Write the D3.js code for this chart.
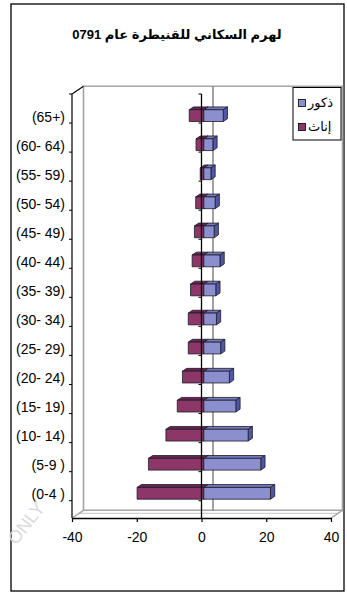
<!DOCTYPE html>
<html>
<head>
<meta charset="utf-8">
<script src="https://cdn.jsdelivr.net/npm/d3@7/dist/d3.min.js"></script>
<style>
  html, body { margin: 0; padding: 0; background: #fff; }
  svg { display: block; font-family: "Liberation Sans", Arial, "DejaVu Sans", sans-serif; }
</style>
</head>
<body>
<svg id="chart" width="347" height="593"></svg>
<script>
// Age groups, top to bottom
const categories = ["(65+)", "(60- 64)", "(55- 59)", "(50- 54)", "(45- 49)", "(40- 44)", "(35- 39)",
                    "(30- 34)", "(25- 29)", "(20- 24)", "(15- 19)", "(10- 14)", "(5-9 )", "(0-4 )"];
// Percent of population by age group
const males   = [6.0, 2.8, 2.2, 3.5, 3.2, 5.0, 3.7, 3.9, 5.2, 7.9, 9.9, 13.7, 17.6, 20.6];
const females = [-4.5, -2.4, -1.1, -2.5, -2.9, -3.6, -4.1, -4.8, -4.8, -6.6, -8.2, -11.7, -17.1, -20.6];
const valueTicks = [-40, -20, 0, 20, 40];
const seriesNames = ["ذكور", "إناث"];
const titleText = "لهرم السكاني للقنيطرة عام 0791";

const svg = d3.select("#chart");

// Front plane scales
const x = d3.scaleLinear().domain([-40, 40]).range([72, 331]);
const y = d3.scaleBand().domain(categories).range([94, 518]).padding(0.595);
const step = y.step();

// Oblique depth: d = 0 front plane, d = 1 back wall
const DX = 11.5, DY = -7.7;
const proj = (px, py, d) => [px + DX * d, py + DY * d];
const pts = arr => arr.map(p => p.join(",")).join(" ");

// Outer frame
svg.append("rect").attr("x", 11).attr("y", 4).attr("width", 333).attr("height", 587)
  .attr("fill", "#fff").attr("stroke", "#000").attr("stroke-width", 1.3);

// Title
svg.append("text").attr("x", 177).attr("y", 39)
  .attr("text-anchor", "middle").style("direction", "rtl")
  .attr("font-size", 13).attr("font-weight", "bold").attr("fill", "#000")
  .text(titleText);

// Walls and floor
const wall = svg.append("g").attr("fill", "none").attr("stroke", "#a4a4a4");
const [x0, x1] = x.range();
const [yTop, yBot] = y.range();
const bl = proj(x0, yTop, 1), br = proj(x1, yTop, 1), fbl = proj(x0, yBot, 1), fbr = proj(x1, yBot, 1);
wall.append("polygon").attr("points", pts([bl, br, fbr, fbl])).attr("stroke-width", 1.6);
wall.append("line").attr("x1", fbl[0] - 5).attr("y1", fbl[1] + 3).attr("x2", fbr[0] - 5).attr("y2", fbr[1] + 3)
  .attr("stroke", "#c4c4c4").attr("stroke-width", 1);
wall.append("line").attr("x1", x0).attr("y1", yBot).attr("x2", fbl[0]).attr("y2", fbl[1]).attr("stroke-width", 1.4);
wall.append("line").attr("x1", x1).attr("y1", yBot).attr("x2", fbr[0]).attr("y2", fbr[1]).attr("stroke-width", 1.4);

// Zero gridline on the back wall
const z0 = proj(x(0), yTop, 1), z1 = proj(x(0), yBot, 1);
svg.append("line").attr("x1", z0[0]).attr("y1", z0[1]).attr("x2", z1[0]).attr("y2", z1[1])
  .attr("stroke", "#7a7a7a").attr("stroke-width", 1.4);

// Left edge of the side wall
svg.append("polyline").attr("points", pts([[x0, yBot], [x0, yTop], bl]))
  .attr("fill", "none").attr("stroke", "#000").attr("stroke-width", 1.2);

// Bars as boxes
const D0 = 0.2, D1 = 0.57;
const colors = {
  f: { front: "#8d3768", top: "#6c2450", side: "#5a1c43" },
  m: { front: "#8b8fcd", top: "#767abd", side: "#5157a6" }
};
const rows = categories.map((c, i) => ({ c, f: females[i], m: males[i] }));
const barsG = svg.append("g").attr("stroke", "#1c1c28").attr("stroke-width", 0.8).attr("stroke-linejoin", "round");

function box(g, v, cat, col) {
  const xa = x(Math.min(0, v)), xb = x(Math.max(0, v));
  const ya = y(cat), yb = y(cat) + y.bandwidth();
  g.append("polygon").attr("fill", col.top)
    .attr("points", pts([proj(xa, ya, D0), proj(xb, ya, D0), proj(xb, ya, D1), proj(xa, ya, D1)]));
  g.append("polygon").attr("fill", col.side)
    .attr("points", pts([proj(xb, ya, D0), proj(xb, ya, D1), proj(xb, yb, D1), proj(xb, yb, D0)]));
  g.append("polygon").attr("fill", col.front)
    .attr("points", pts([proj(xa, ya, D0), proj(xb, ya, D0), proj(xb, yb, D0), proj(xa, yb, D0)]));
}
rows.forEach(r => {
  const g = barsG.append("g");
  box(g, r.f, r.c, colors.f);
  box(g, r.m, r.c, colors.m);
});

// Category tick marks at band boundaries (side wall edge and zero line)
const bounds = d3.range(categories.length + 1).map(i => yTop + i * step);
const tickG = svg.append("g").attr("stroke", "#000").attr("stroke-width", 1);
bounds.forEach(b => {
  tickG.append("line").attr("x1", x0 - 3).attr("x2", x0).attr("y1", b).attr("y2", b);
  if (b < yBot - 1) tickG.append("line").attr("x1", x(0) - 3).attr("x2", x(0)).attr("y1", b).attr("y2", b);
});

// Zero axis line in front of the bars
svg.append("line").attr("x1", x(0)).attr("x2", x(0)).attr("y1", yTop).attr("y2", yBot)
  .attr("stroke", "#000").attr("stroke-width", 1.3);

// Value axis (plain hyphen for negatives)
const xAxis = svg.append("g").attr("transform", `translate(0,${yBot})`)
  .call(d3.axisBottom(x).tickValues(valueTicks).tickFormat(d => String(d))
    .tickSize(4).tickSizeOuter(0).tickPadding(10));
xAxis.select(".domain").attr("stroke", "#000").attr("stroke-width", 1.3);
xAxis.selectAll(".tick line").attr("stroke", "#000").attr("stroke-width", 1.2);
xAxis.selectAll("text").attr("font-size", 14).attr("fill", "#000").style("font-family", "Liberation Sans, Arial, sans-serif");

// Category labels
const yAxis = svg.append("g").attr("transform", `translate(${x0},0)`)
  .call(d3.axisLeft(y).tickSize(0).tickPadding(7));
yAxis.select(".domain").remove();
yAxis.selectAll("text").attr("font-size", 14).attr("fill", "#000")
  .style("font-family", "Liberation Sans, Arial, sans-serif");

// Legend
const lg = svg.append("g");
lg.append("rect").attr("x", 293).attr("y", 87.5).attr("width", 48).attr("height", 52.5)
  .attr("fill", "#fff").attr("stroke", "#000").attr("stroke-width", 1);
const legendColors = [colors.m.front, colors.f.front];
seriesNames.forEach((name, i) => {
  const cy = 103 + i * 24;
  lg.append("rect").attr("x", 298.5).attr("y", cy - 3.5).attr("width", 7).attr("height", 7)
    .attr("fill", legendColors[i]).attr("stroke", "#000").attr("stroke-width", 0.8);
  lg.append("text").attr("x", 308).attr("y", cy + 4).attr("font-size", 13).attr("fill", "#000")
    .style("font-family", "DejaVu Sans, sans-serif").text(name);
});

// Faint watermark
svg.append("text").attr("transform", "translate(31,527) rotate(-52)")
  .attr("text-anchor", "middle").attr("font-size", 18).attr("fill", "#d9d9d9")
  .text("ONLY");
</script>
</body>
</html>
